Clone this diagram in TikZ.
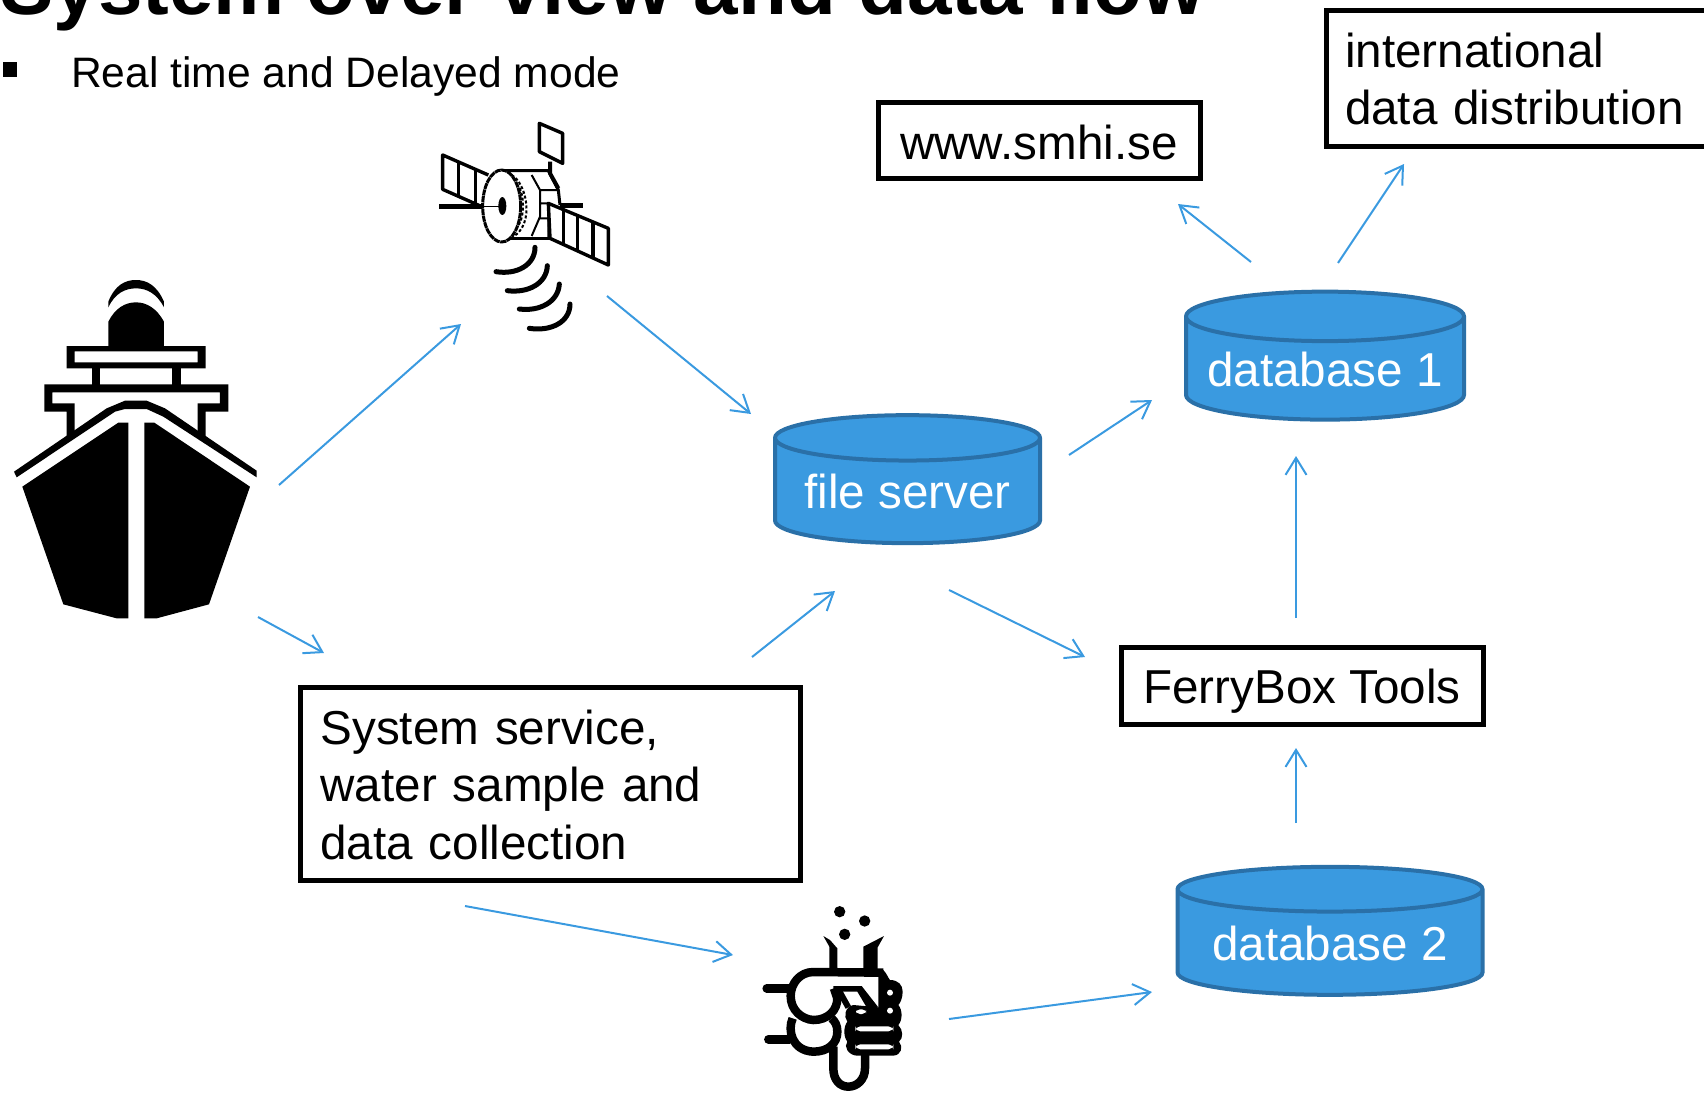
\documentclass[tikz,border=0pt]{standalone}
\usepackage{fontspec}
\setmainfont{Liberation Sans}
\usetikzlibrary{arrows.meta,shapes.geometric}
\definecolor{flow}{HTML}{3A9AE0}
\definecolor{drumline}{HTML}{2A70A8}
\tikzset{
  x=1pt,y=-1pt,
  boxnode/.style={draw=black,line width=5pt,fill=white,inner sep=0pt,text=black,font=\fontsize{47.6}{57.5}\selectfont,align=left},
  drum/.style={shape=cylinder,shape border rotate=90,draw=drumline,line width=4pt,
    cylinder uses custom fill,cylinder body fill=flow,cylinder end fill=flow,
    inner sep=0pt,text=white,font=\fontsize{47.6}{57}\selectfont},
  arrowline/.style={draw=flow,line width=2pt,-{Straight Barb[length=17pt,width=21pt,line width=2pt]}},
}
\newcommand{\conn}[4]{\draw[arrowline] ([shift={(#2)}]#1.center) -- ([shift={(#4)}]#3.center);}
\begin{document}
\begin{tikzpicture}
\useasboundingbox (0,0) rectangle (1704,1093);
\clip (0,0) rectangle (1704,1093);

% title and bullet
\node[anchor=base west,inner sep=0pt,font=\fontsize{80}{80}\selectfont\bfseries] (title) at (0,14) {System over view and data flow};
\fill (3,62) rectangle (17,77);
\node[anchor=base west,inner sep=0pt,font=\fontsize{42.6}{50}\selectfont] (sub) at (71,87) {Real time and Delayed mode};

% reference nodes
\node[inner sep=0pt,minimum width=243pt,minimum height=338pt] (ship) at (135,449) {};
\node[inner sep=0pt,minimum width=172pt,minimum height=211pt] (sat) at (524,228) {};
\node[inner sep=0pt,minimum width=138pt,minimum height=188pt] (flask) at (833,999) {};

% boxes
\node[boxnode,minimum width=322pt,minimum height=76pt,align=center,text height=38.8pt,text depth=0pt] (www) at (1039,140) {www.smhi.se};
\node[boxnode,minimum width=384pt,minimum height=136pt,text width=346pt,text height=36.7pt] (intl) at (1518,78) {international\\data distribution};
\node[boxnode,minimum width=362pt,minimum height=77pt,align=center,text height=35.6pt,text depth=0pt] (ferry) at (1302,686) {FerryBox Tools};
\node[boxnode,minimum width=500pt,minimum height=193pt,text width=459pt,text height=36.7pt] (svc) at (550,783.5) {System service,\\water sample and\\data collection};

% databases
\node[drum,shape aspect=0.22,minimum width=265pt,minimum height=128pt] (file) at (907.5,491.5) {file server};
\node[drum,shape aspect=0.21,minimum width=278pt,minimum height=128pt] (dbone) at (1325,369) {database 1};
\node[drum,shape aspect=0.19,minimum width=305pt,minimum height=128pt] (dbtwo) at (1330,943) {database 2};

% ship
\begin{scope}[shift={(0,260)},xscale=1/3,yscale=1/3]
\fill (325,125) .. controls (345,75) and (375,60) .. (408,60) .. controls (440,60) and (470,75) .. (492,125) -- (492,142)
  .. controls (470,100) and (440,85) .. (408,85) .. controls (375,85) and (345,100) .. (325,142) -- cycle;
\fill (325,262) -- (325,185) .. controls (345,145) and (375,127) .. (408,127) .. controls (440,127) and (470,145) .. (492,185) -- (492,262) -- cycle;
\fill[even odd rule] (200,258) rectangle (617,325) (224,274) rectangle (593,307);
\fill (276,320) rectangle (300,378);
\fill (517,320) rectangle (542,378);
\fill (133,373) -- (685,373) -- (685,455) -- (617,455) -- (617,540) -- (593,525) -- (593,430) -- (660,430) -- (660,397) -- (157,397) -- (157,430) -- (224,430) -- (224,520) -- (200,540) -- (200,455) -- (133,455) -- cycle;
\fill (42,635) -- (320,445) -- (375,422) -- (440,422) -- (495,445) -- (770,632) -- (770,652) -- (490,470) -- (440,447) -- (375,447) -- (345,455) -- (50,652) -- cycle;
\fill (67,680) -- (355,488) -- (385,488) -- (385,1075) -- (350,1075) -- (190,1033) -- cycle;
\fill (433,488) -- (463,488) -- (750,680) -- (627,1033) -- (470,1075) -- (433,1075) -- cycle;
\end{scope}

% satellite
\begin{scope}[shift={(420,110)},xscale=1/3,yscale=1/3,line join=round]
\draw[line width=3.4pt] (205,195) -- (68,135) -- (68,238) -- (190,292);
\draw[line width=3pt] (115,157) -- (115,258) (165,180) -- (165,280);
\draw[line width=5pt] (58,290) -- (185,290) (420,285) -- (490,285);
\draw[line width=3pt] (240,182) -- (385,182) -- (415,240) -- (420,285);
\draw[line width=3pt] (240,385) -- (390,385);
\draw[line width=4pt] (390,155) -- (390,190) -- (415,235);
\draw[line width=3.4pt] (358,40) -- (428,70) -- (428,160) -- (358,125) -- cycle;
\draw[line width=3.4pt] (385,280) -- (565,355) -- (565,465) -- (390,385) -- cycle;
\draw[line width=3pt] (430,303) -- (430,405) (472,322) -- (472,425);
\draw[line width=4pt] (518,340) -- (518,445);
\draw[line width=2pt] (335,195) -- (360,240) -- (360,320) -- (335,378) (360,240) -- (415,240) (360,325) -- (385,325) (385,280) -- (385,385) (360,280) -- (385,280);
\draw[line width=2pt,densely dashed] (275,195) .. controls (320,220) and (345,340) .. (280,380);
\draw[line width=2pt,densely dashed] (290,222) .. controls (315,245) and (315,325) .. (292,350);
\draw[line width=3pt,fill=white,dash pattern=on 6pt off 0.6pt] (245,288) ellipse [x radius=57,y radius=108];
\draw[line width=1pt] (185,290) -- (245,290);
\fill (247,288) ellipse [x radius=12,y radius=27];
\draw[line width=5pt,line cap=round] (228,485) .. controls (290,495) and (345,465) .. (345,412);
\draw[line width=5pt,line cap=round] (262,542) .. controls (325,550) and (380,520) .. (382,467);
\draw[line width=5pt,line cap=round] (298,597) .. controls (360,605) and (415,575) .. (418,522);
\draw[line width=5pt,line cap=round] (328,655) .. controls (395,665) and (450,635) .. (450,582);
\end{scope}

% flask and hand
\begin{scope}[shift={(750,890)},xscale=1/3,yscale=1/3]
\fill (269,65) circle [radius=17];
\fill (344,93) circle [radius=17];
\fill (284,133) circle [radius=17];
\fill (220,138) -- (240,150) -- (262,175) -- (262,240) -- (238,240) -- (238,170) -- cycle;
\fill (340,240) -- (340,170) -- (402,138) -- (383,172) -- (383,260) -- cycle;
% fist
\fill (385,240) -- (400,240) .. controls (410,250) and (415,265) .. (420,270) .. controls (445,270) and (458,285) .. (458,305) .. controls (458,325) and (450,340) .. (445,345)
  .. controls (458,360) and (458,390) .. (445,405) .. controls (460,420) and (460,445) .. (447,455) .. controls (460,470) and (455,495) .. (430,497)
  -- (320,497) .. controls (295,495) and (280,470) .. (292,455) .. controls (280,440) and (280,410) .. (292,395) .. controls (280,380) and (285,350) .. (310,345) -- (385,352) -- cycle;
% wedge
\fill (250,288) -- (335,288) -- (385,352) -- (350,352) -- (322,305) -- (250,305) -- cycle;
\draw[line width=6pt] (265,298) -- (295,352);
\fill[white,rounded corners=5pt] (316,409) rectangle (430,424);
\fill[white,rounded corners=5pt] (316,463) rectangle (430,478);
\fill[white,rounded corners=4pt] (318,358) rectangle (348,372);
\fill[white] (420,308) circle [radius=9];
\fill[white] (420,362) circle [radius=9];
% vessels
\draw[line width=8.5pt] (400,248) -- (190,246) .. controls (150,246) and (122,280) .. (122,318) .. controls (122,360) and (155,388) .. (190,390) .. controls (235,390) and (262,360) .. (262,325) -- (252,295);
\draw[line width=8.5pt] (128,385) .. controls (112,420) and (125,482) .. (190,485) .. controls (235,485) and (262,460) .. (262,425) .. controls (262,405) and (255,395) .. (245,385);
\draw[line width=8.5pt] (250,470) -- (250,535) .. controls (250,570) and (270,590) .. (295,590) .. controls (320,590) and (345,570) .. (345,535) -- (345,490);
\draw[line width=8.5pt,line cap=round] (50,295) -- (115,295);
\draw[line width=8.5pt,line cap=round] (55,448) -- (118,448);
\end{scope}

% connectors
\conn{ship}{144,36}{sat}{-63,96}
\conn{sat}{83,68}{file}{-156.5,-77.5}
\conn{ship}{123,168}{svc}{-226,-130.5}
\conn{svc}{202,-126.5}{file}{-72.5,99.5}
\conn{file}{41.5,98.5}{ferry}{-217,-29}
\conn{file}{161.5,-36.5}{dbone}{-173,31}
\conn{ferry}{-6,-68}{dbone}{-29,87}
\conn{dbone}{-74,-107}{www}{139,64}
\conn{dbone}{13,-106}{intl}{-114,86}
\conn{dbtwo}{-34,-120}{ferry}{-6,62}
\conn{svc}{-85,122.5}{flask}{-100,-44}
\conn{flask}{116,20}{dbtwo}{-178,49}
\end{tikzpicture}
\end{document}
